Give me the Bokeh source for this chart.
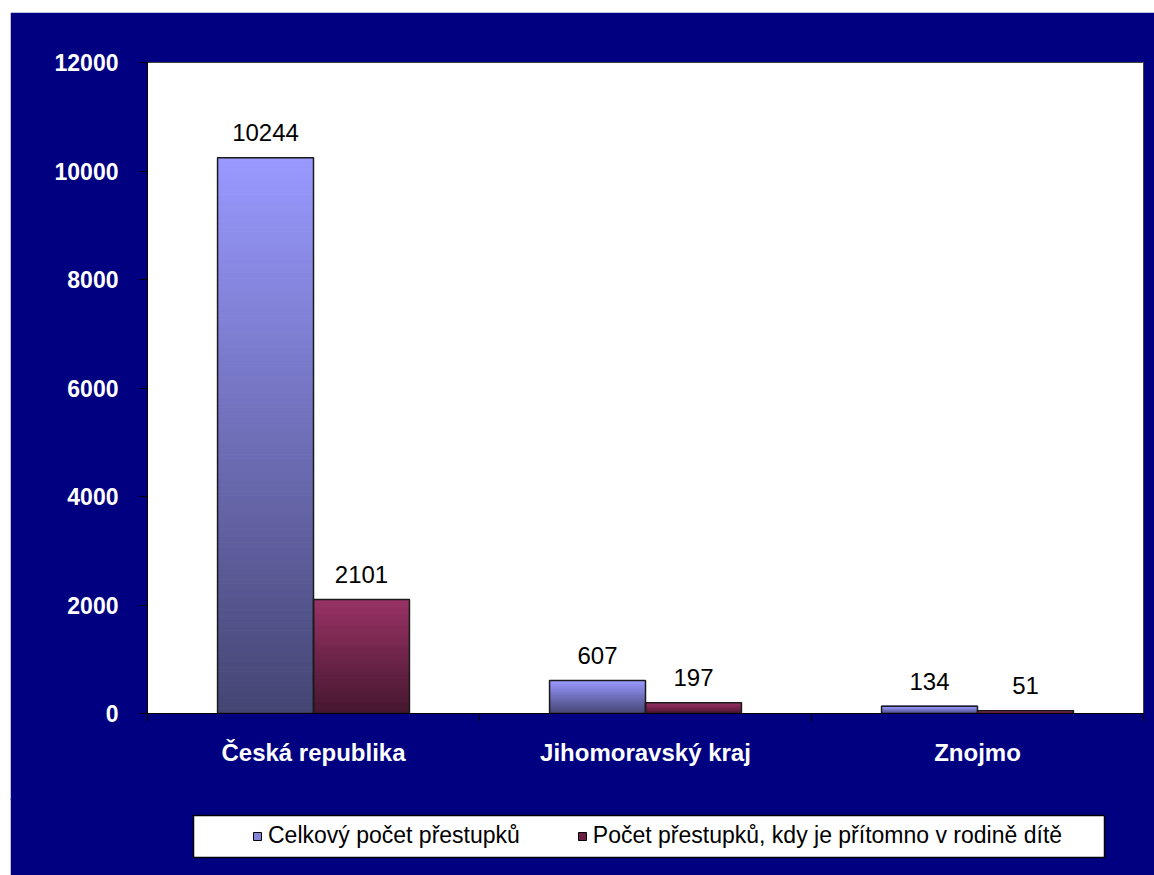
import numpy as np
from bokeh.plotting import figure
from bokeh.layouts import column
from bokeh.models import (ColumnDataSource, Range1d, FixedTicker, CustomJSTickFormatter,
                          Legend, LegendItem)
from bokeh.core.properties import value
from bokeh.embed import file_html
from bokeh.resources import INLINE

# ---- data ----
categories = ["Česká republika", "Jihomoravský kraj", "Znojmo"]
celkovy = [10244, 607, 134]
s_ditetem = [2101, 197, 51]
series_labels = ["Celkový počet přestupků",
                 "Počet přestupků, kdy je přítomno v rodině dítě"]
y_ticks = [0, 2000, 4000, 6000, 8000, 10000, 12000]

# ---- style ----
NAVY = "#000080"
FONT = "Liberation Sans"
TOP_COLORS = [(153, 153, 255), (153, 51, 102)]
LEGEND_COLORS = ["#8585d8", "#6b1f45"]
DARK = 0.45
BAR_W = 0.289
BORDER_L, BORDER_R = 137, 11
FRAME_W = 1144 - BORDER_L - BORDER_R

n = len(categories)
p = figure(width=1144, height=788, output_backend="svg", toolbar_location=None,
           x_range=Range1d(0, n), y_range=Range1d(0, 12000),
           min_border_left=BORDER_L, min_border_right=BORDER_R, min_border_top=50,
           min_border_bottom=87,
           background_fill_color="white", border_fill_color=NAVY,
           outline_line_color="#404040")
p.grid.visible = False

# x axis
xa = p.xaxis[0]
xa.ticker = FixedTicker(ticks=[i + 0.5 for i in range(n)], minor_ticks=list(range(n + 1)))
xa.formatter = CustomJSTickFormatter(args=dict(names=categories),
                                     code="return names[Math.floor(tick)] || '';")
xa.major_tick_out = 0
xa.major_tick_in = 0
xa.minor_tick_out = 8
xa.minor_tick_in = 0
xa.minor_tick_line_color = "black"
xa.axis_line_color = "black"
xa.major_label_text_color = "white"
xa.major_label_text_font = FONT
xa.major_label_text_font_style = "bold"
xa.major_label_text_font_size = "24px"
xa.major_label_standoff = 17

# y axis
ya = p.yaxis[0]
ya.ticker = FixedTicker(ticks=y_ticks)
ya.major_tick_out = 8
ya.major_tick_in = 0
ya.minor_tick_out = 0
ya.minor_tick_in = 0
ya.major_tick_line_color = "black"
ya.axis_line_color = "black"
ya.major_label_text_color = "white"
ya.major_label_text_font = FONT
ya.major_label_text_font_style = "bold"
ya.major_label_text_font_size = "23px"
ya.major_label_standoff = 21

# gradient bars built from slices
K = 120
sl = dict(left=[], right=[], bottom=[], top=[], color=[])
outl = dict(left=[], right=[], top=[])
lab = dict(x=[], y=[], text=[])
for si, vals in enumerate([celkovy, s_ditetem]):
    rgb = np.array(TOP_COLORS[si], dtype=float)
    for ci, v in enumerate(vals):
        c = ci + 0.5
        left = c - BAR_W if si == 0 else c
        right = left + BAR_W
        edges = np.linspace(0, v, K + 1)
        for k in range(K):
            t = (k + 0.5) / K
            f = DARK + (1 - DARK) * t
            col = "#%02x%02x%02x" % tuple(int(round(x)) for x in rgb * f)
            sl["left"].append(left); sl["right"].append(right)
            sl["bottom"].append(edges[k]); sl["top"].append(edges[k + 1])
            sl["color"].append(col)
        outl["left"].append(left); outl["right"].append(right); outl["top"].append(v)
        lab["x"].append((left + right) / 2); lab["y"].append(v); lab["text"].append(str(v))

p.quad(left="left", right="right", bottom="bottom", top="top", source=ColumnDataSource(sl),
       fill_color="color", line_color="color", line_width=1)
p.quad(left="left", right="right", bottom=0, top="top", source=ColumnDataSource(outl),
       fill_color=None, line_color="#1a1a1a", line_width=1.5)
p.text(x="x", y="y", text="text", source=ColumnDataSource(lab),
       text_align="center", text_baseline="alphabetic", y_offset=-25,
       text_font=value(FONT), text_font_size="24px", text_color="black")

# ---- legend strip (second figure, pixel-scaled ranges) ----
LG_H = 77
lg = figure(width=1144, height=LG_H, output_backend="svg", toolbar_location=None,
            x_range=Range1d(0, FRAME_W), y_range=Range1d(0, LG_H),
            x_axis_location=None, y_axis_location=None,
            min_border_left=BORDER_L, min_border_right=BORDER_R, min_border_top=0,
            min_border_bottom=0,
            background_fill_color=NAVY, border_fill_color=NAVY,
            outline_line_color=NAVY, outline_line_width=3)
lg.grid.visible = False
lg.margin = (-2, 0, 0, 0)
# legend box
lg.quad(left=[46], right=[957], bottom=[18], top=[60], fill_color="white",
        line_color="black", line_width=1.5)
# proxy glyphs for the legend swatches (kept outside the visible range)
r1 = lg.quad(left=[-30], right=[-20], top=[-20], bottom=[-30], fill_color=LEGEND_COLORS[0],
             line_color="black", line_width=1)
r2 = lg.quad(left=[-30], right=[-20], top=[-20], bottom=[-30], fill_color=LEGEND_COLORS[1],
             line_color="black", line_width=1)
legend = Legend(items=[LegendItem(label=series_labels[0], renderers=[r1]),
                       LegendItem(label=series_labels[1], renderers=[r2])],
                location=(105, 26), orientation="horizontal",
                background_fill_alpha=0, border_line_color=None,
                padding=0, margin=0, spacing=57, glyph_width=10, glyph_height=10,
                label_standoff=6, label_text_font=FONT, label_text_font_size="23px",
                label_text_color="black")
lg.add_layout(legend, "center")

layout = column(p, lg, spacing=0)
layout.margin = (12, 0, 0, 10)

open("out.html", "w").write(file_html(layout, INLINE))
